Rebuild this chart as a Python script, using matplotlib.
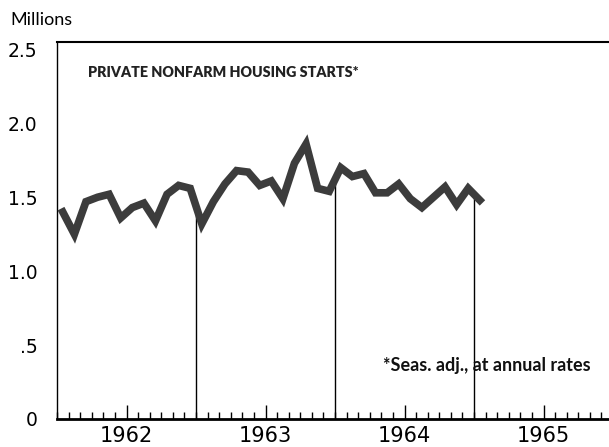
import numpy as np
import matplotlib
matplotlib.use('Agg')
import matplotlib.pyplot as plt
from matplotlib.ticker import FixedLocator, MultipleLocator

# monthly housing starts, Jan 1962 - Jan 1965 (millions, seas. adj. annual rate)
starts_1962 = [1.40, 1.25, 1.47, 1.50, 1.52, 1.36, 1.43, 1.46, 1.34, 1.52, 1.58, 1.56]
starts_1963 = [1.32, 1.47, 1.59, 1.68, 1.67, 1.58, 1.61, 1.49, 1.73, 1.86, 1.56, 1.54]
starts_1964 = [1.70, 1.64, 1.66, 1.53, 1.53, 1.59, 1.49, 1.43, 1.50, 1.57, 1.45, 1.56]
starts_1965 = [1.48]

years = [1962, 1963, 1964, 1965]
y_ticks = [0, 0.5, 1.0, 1.5, 2.0, 2.5]
y_labels = ['0', '.5', '1.0', '1.5', '2.0', '2.5']

values = np.array(starts_1962 + starts_1963 + starts_1964 + starts_1965)
months = 1962 + (np.arange(len(values)) + 0.5) / 12.0

plt.rcParams['font.family'] = ['Lato', 'DejaVu Sans']

fig = plt.figure(figsize=(6.09, 4.47), dpi=100)
ax = fig.add_axes([57 / 609, 28 / 447, 552 / 609, 377 / 447])

ax.plot(months, values, color='#3c3c3c', lw=5.5, solid_joinstyle='miter', zorder=3)

# thin drop lines at the year boundaries, up to the series
for yb in [1963, 1964, 1965]:
    top = np.interp(yb, months, values)
    ax.plot([yb, yb], [0, top], color='black', lw=1.0, zorder=2)

ax.set_xlim(1962, 1962 + 552 / 139)
ax.set_ylim(0, 2.55)

ax.xaxis.set_major_locator(FixedLocator([y + 0.5 for y in years]))
ax.set_xticklabels([str(y) for y in years], family='DejaVu Sans')
ax.xaxis.set_minor_locator(MultipleLocator(1 / 12))
ax.tick_params(axis='x', which='major', direction='in', length=10, width=1,
               labelsize=15, pad=5)
ax.tick_params(axis='x', which='minor', direction='in', length=5, width=1)

ax.set_yticks(y_ticks)
ax.set_yticklabels(y_labels, family='DejaVu Sans')
ax.tick_params(axis='y', length=0, labelsize=13.5, pad=14)

ax.spines['right'].set_visible(False)
ax.spines['bottom'].set_linewidth(2)
ax.spines['left'].set_linewidth(1)
ax.spines['top'].set_linewidth(1.5)

ax.text(0.056, 0.92, 'PRIVATE NONFARM HOUSING STARTS*', transform=ax.transAxes,
        fontsize=10.3, fontweight='heavy', color='#222222', va='center', ha='left')
ax.text(0.59, 0.143, '*Seas. adj., at annual rates', transform=ax.transAxes,
        fontsize=13, fontweight='bold', color='#111111', va='center', ha='left')
fig.text(10 / 609, 1 - 20 / 447, 'Millions', fontsize=13, va='center', ha='left')

plt.savefig('out.png', dpi=100)
